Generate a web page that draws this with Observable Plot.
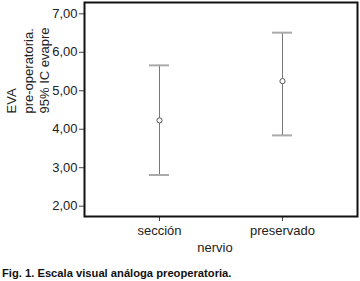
<!DOCTYPE html>
<html>
<head>
<meta charset="utf-8">
<script src="https://cdn.jsdelivr.net/npm/d3@7"></script>
<script src="https://cdn.jsdelivr.net/npm/@observablehq/plot@0.6"></script>
<style>
  html, body { margin: 0; padding: 0; background: #fff; overflow: hidden; }
  #chart svg { display: block; }
  #caption {
    font: bold 11.2px "Liberation Sans", Arial, sans-serif;
    line-height: 16px;
    padding: 7px 0 0 2px;
    color: #111;
    white-space: nowrap;
  }
</style>
</head>
<body>
<div id="chart"></div>
<div id="caption">Fig. 1. Escala visual análoga preoperatoria.</div>
<script>
const categories = ["sección", "preservado"];
const means = [4.23, 5.25];
const lower = [2.81, 3.84];
const upper = [5.66, 6.51];
const yTicks = [2, 3, 4, 5, 6, 7];
const yLabel = "EVA\npre-operatoria.\n95% IC evapre";
const xLabel = "nervio";

const data = categories.map((c, i) => ({cat: c, mean: means[i], lo: lower[i], hi: upper[i]}));
const fmt = d => d.toFixed(2).replace(".", ",");

const chart = Plot.plot({
  width: 360,
  height: 258,
  marginLeft: 84,
  marginRight: 3,
  marginTop: 2,
  marginBottom: 42,
  style: {fontFamily: "'Liberation Sans', Arial, sans-serif", fontSize: "13px", color: "#222", background: "#fff"},
  x: {type: "band", domain: categories, paddingInner: 0.837, paddingOuter: 0.526},
  y: {domain: [1.732, 7.294]},
  marks: [
    Plot.axisY({ticks: yTicks, tickFormat: fmt, tickSize: 5, tickPadding: 2, stroke: "#444", label: null, fontSize: 13, fill: "#222"}),
    Plot.axisX({tickSize: 5, tickPadding: 4, stroke: "#444", label: null, fontSize: 13, fill: "#222"}),
    Plot.ruleX(data, {x: "cat", y1: "lo", y2: "hi", stroke: "#777", strokeWidth: 1}),
    Plot.tickY(data, {x: "cat", y: "hi", stroke: "#aaa", strokeWidth: 2}),
    Plot.tickY(data, {x: "cat", y: "lo", stroke: "#aaa", strokeWidth: 2}),
    Plot.dot(data, {x: "cat", y: "mean", r: 2.6, stroke: "#555", fill: "white", strokeWidth: 1}),
    Plot.frame({stroke: "#111", strokeWidth: 2}),
    Plot.text([yLabel], {frameAnchor: "left", dx: -57, dy: 4, rotate: -90, fontSize: 13, fill: "#222", lineHeight: 1.25, lineAnchor: "middle"}),
    Plot.text([xLabel], {frameAnchor: "bottom", dx: -6, dy: 25.8, lineAnchor: "top", fontSize: 13, fill: "#222"})
  ]
});
document.getElementById("chart").appendChild(chart);
</script>
</body>
</html>
